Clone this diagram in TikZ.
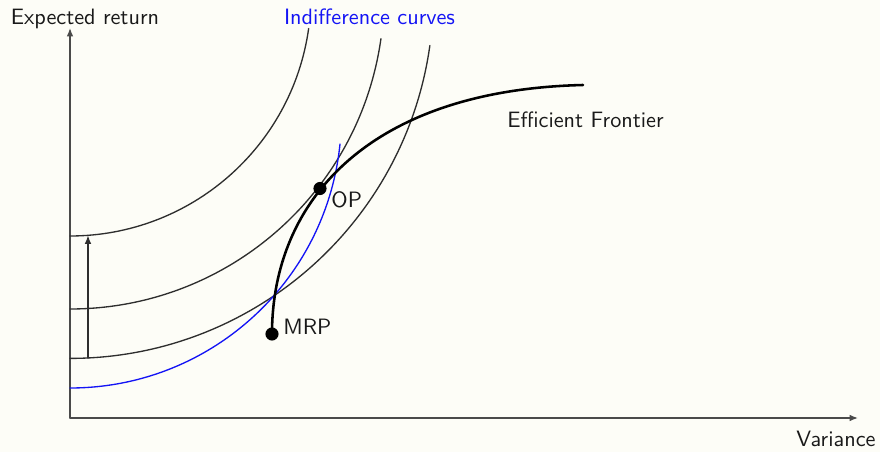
\documentclass[tikz,border=0pt]{standalone}
\usepackage{xcolor}
\definecolor{pfcream}{HTML}{FDFDF7}
\definecolor{pfgray}{HTML}{4A4A4A}
\definecolor{pfcurve}{HTML}{2E2E2E}
\definecolor{pfblue}{HTML}{1414F5}
\usepackage{tikz}
\usetikzlibrary{arrows.meta,positioning}
\tikzset{
  >={Latex[length=3.8pt,width=3pt]},
  every picture/.style={line cap=round, line join=round},
  lbl/.style={font=\sffamily, text=black!90, inner sep=0pt},
  axisline/.style={pfgray, line width=0.6pt, ->},
  indiff/.style={pfcurve, line width=0.6pt},
  frontier/.style={black, line width=1.15pt},
  dot/.style={circle, fill=black, inner sep=0pt, minimum size=5.9pt},
}

\begin{document}
\begin{tikzpicture}[x=0.45pt, y=0.45pt,
  shiftarrow/.style={pfcurve, line width=0.5pt, ->},
  utility/.style={pfblue, line width=0.6pt},
]
\fill[pfcream] (-70,-34) rectangle (810,418);
\useasboundingbox (-70,-34) rectangle (810,418);
% ------------------------------------------------------------- axes
\coordinate (origin) at (0,0);
\coordinate (ytop) at (0,390);
\coordinate (xend) at (788,0);
\draw[axisline] (origin) -- (ytop);
\draw[axisline] (origin) -- (xend);
\node[lbl, anchor=base] (ylbl) at (15,393) {Expected return};
\node[lbl, anchor=base] (xlbl) at (766,-29) {Variance};

% ------------------------------------------------------------- indifference curves
\foreach \r in {241,314,363.4}
  \draw[indiff] (0,423-\r) arc[start angle=-90, end angle=-8, radius=\r];
\draw[utility] (0,30) arc[start angle=-90, end angle=-5.8, radius=271.4];
\node[lbl, anchor=base, text=pfblue] (iclbl) at (299.5,393) {Indifference curves};

% shift of the curves
\coordinate (lowstart) at (18,60);
\coordinate (highstart) at (18,182.5);
\draw[shiftarrow] (lowstart) -- (highstart);

% ------------------------------------------------------------- frontier
\node[dot] (mrp) at (202,84) {};
\node[dot] (op) at (250,229.5) {};
\coordinate (fend) at (513,333);
\draw[frontier] (mrp.center) .. controls (202,218) and (300,328) .. (fend);
\node[lbl, anchor=base] (eflbl) at (515.5,290) {Efficient Frontier};
\node[lbl, anchor=base west] (oplbl) at (261,210) {OP};
\node[lbl, anchor=base west] (mrplbl) at (213,83) {MRP};
\end{tikzpicture}
\end{document}
